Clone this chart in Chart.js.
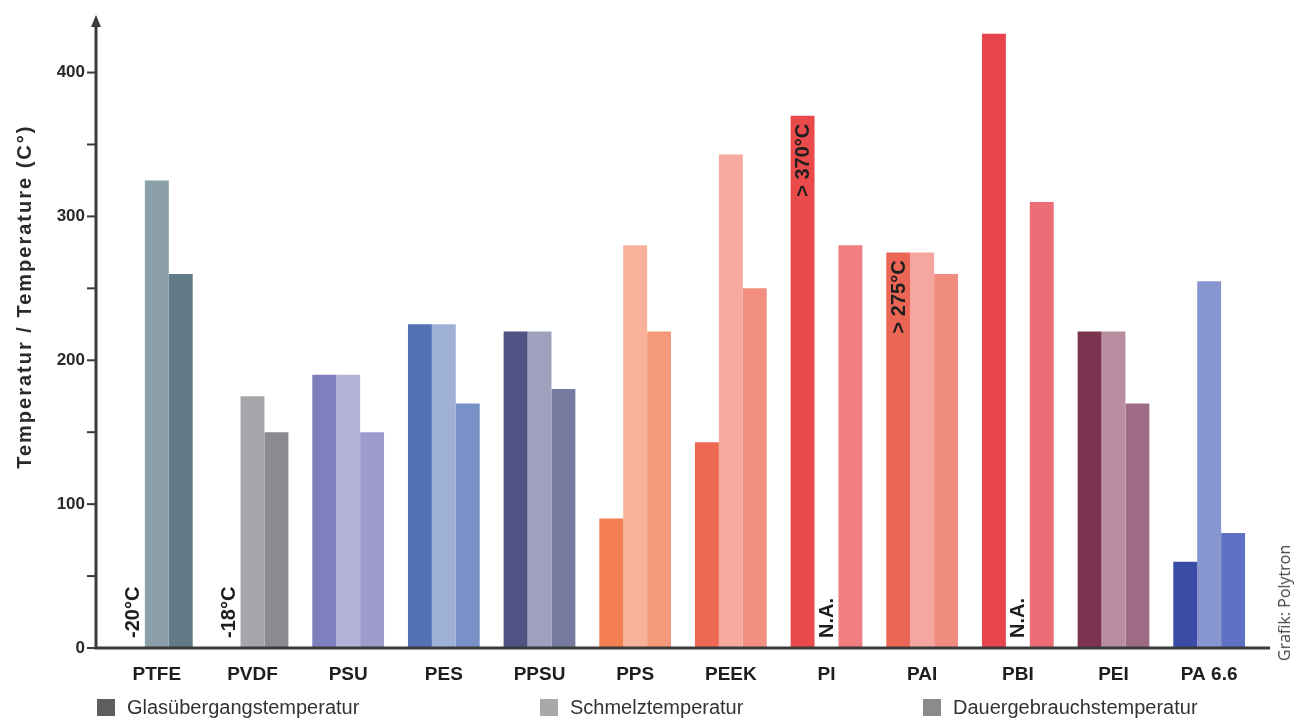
<!DOCTYPE html>
<html>
<head>
<meta charset="utf-8">
<script src="https://cdn.jsdelivr.net/npm/chart.js@4/dist/chart.umd.min.js"></script>
<style>
  body { margin: 0; background: #fff; }
  #wrap { position: relative; width: 1300px; height: 720px; }
  #legend { position: absolute; left: 97px; top: 696px; display: flex; font-family: 'Liberation Sans', Arial, sans-serif; font-size: 20px; color: #333; }
  #legend .item { display: flex; align-items: center; }
  #legend .box { width: 18px; height: 17px; margin-right: 12px; }
  #credit { position: absolute; left: 1284px; top: 603px; transform: translate(-50%, -50%) rotate(-90deg); white-space: nowrap; font-family: 'Open Sans', sans-serif; font-size: 16px; color: #444; }
</style>
</head>
<body>
<div id="wrap">
  <canvas id="chart" width="1300" height="720"></canvas>
  <div id="legend"></div>
  <div id="credit">Grafik: Polytron</div>
</div>
<script>
const categories = ['PTFE', 'PVDF', 'PSU', 'PES', 'PPSU', 'PPS', 'PEEK', 'PI', 'PAI', 'PBI', 'PEI', 'PA 6.6'];
const seriesNames = ['Glasübergangstemperatur', 'Schmelztemperatur', 'Dauergebrauchstemperatur'];

// values in °C, null = not available
const glassTemp = [-20, -18, 190, 225, 220, 90, 143, 370, 275, 427, 220, 60];
const meltTemp = [325, 175, 190, 225, 220, 280, 343, null, 275, null, 220, 255];
const serviceTemp = [260, 150, 150, 170, 180, 220, 250, 280, 260, 310, 170, 80];

// text written into the bars
const glassNotes = ['-20°C', '-18°C', '', '', '', '', '', '> 370°C', '> 275°C', '', '', ''];
const meltNotes = ['', '', '', '', '', '', '', 'N.A.', '', 'N.A.', '', ''];
const serviceNotes = ['', '', '', '', '', '', '', '', '', '', '', ''];

const glassColors = ['#8a9fa9', '#a4a6a9', '#7e7fbd', '#5371b5', '#4f5282', '#f47f50', '#ee6853', '#eb4a4b', '#ec6655', '#e9434b', '#7c3350', '#3a4ca6'];
const meltColors = ['#8a9fa9', '#a4a6a9', '#b2b2d8', '#9eb0d6', '#9fa0bd', '#f8b29a', '#f6aaa0', '#f6aaa0', '#f5a6a0', '#f5a6a0', '#b98ea0', '#8896cf'];
const serviceColors = ['#617a86', '#8a8b8f', '#9c9bcb', '#7891c6', '#777a9f', '#f49a7b', '#f28e7f', '#f07d7f', '#f08c80', '#ee6c76', '#9d6c84', '#5e71c2'];
const legendColors = ['#5e5e5e', '#a9a9a9', '#8b8b8b'];

const yTitle = 'Temperatur / Temperature (C°)';

const FONT = "'Liberation Sans', Arial, sans-serif";
const AXIS_GAP = 13;
const notesBySeries = [glassNotes, meltNotes, serviceNotes];

const axisPlugin = {
  id: 'arrowAxes',
  afterDatasetsDraw(chart) {
    const { ctx, chartArea, scales } = chart;
    const ax = chartArea.left - AXIS_GAP;
    ctx.save();
    ctx.strokeStyle = '#3a3a3a';
    ctx.fillStyle = '#3a3a3a';
    ctx.lineWidth = 3;
    ctx.beginPath();
    ctx.moveTo(ax, chartArea.bottom);
    ctx.lineTo(ax, chartArea.top + 8);
    ctx.moveTo(ax - 1.5, chartArea.bottom);
    ctx.lineTo(chartArea.right + AXIS_GAP, chartArea.bottom);
    ctx.stroke();
    ctx.beginPath();
    ctx.moveTo(ax, chartArea.top);
    ctx.lineTo(ax - 5, chartArea.top + 12);
    ctx.lineTo(ax + 5, chartArea.top + 12);
    ctx.closePath();
    ctx.fill();
    ctx.lineWidth = 2;
    scales.y.ticks.forEach((t) => {
      if (t.value % 50 !== 0) return;
      const y = scales.y.getPixelForValue(t.value);
      ctx.beginPath();
      ctx.moveTo(ax - 9, y);
      ctx.lineTo(ax, y);
      ctx.stroke();
    });

    // axis title, set a little above the middle of the axis
    ctx.save();
    ctx.translate(25, chartArea.top + (chartArea.bottom - chartArea.top) * 0.445);
    ctx.rotate(-Math.PI / 2);
    ctx.font = `bold 20px ${FONT}`;
    ctx.letterSpacing = '2px';
    ctx.fillStyle = '#2a2a2a';
    ctx.textAlign = 'center';
    ctx.textBaseline = 'middle';
    ctx.fillText(yTitle, 0, 0);
    ctx.restore();
    ctx.restore();
  },
};

const notesPlugin = {
  id: 'barNotes',
  afterDatasetsDraw(chart) {
    const { ctx, chartArea } = chart;
    ctx.save();
    ctx.font = `bold 20px ${FONT}`;
    ctx.fillStyle = '#1e1e1e';
    ctx.textBaseline = 'middle';
    chart.data.datasets.forEach((ds, di) => {
      const meta = chart.getDatasetMeta(di);
      notesBySeries[di].forEach((text, i) => {
        if (!text) return;
        const el = meta.data[i];
        const v = ds.data[i];
        ctx.save();
        if (v === null || v <= 0) {
          ctx.translate(el.x, chartArea.bottom - 10);
          ctx.rotate(-Math.PI / 2);
          ctx.textAlign = 'left';
        } else {
          ctx.translate(el.x, el.y + 8);
          ctx.rotate(-Math.PI / 2);
          ctx.textAlign = 'right';
        }
        ctx.fillText(text, 0, 1);
        ctx.restore();
      });
    });
    ctx.restore();
  },
};

const noEdgePadding = (s) => {
  s.paddingTop = 0;
  s.paddingBottom = 0;
  s.paddingLeft = 0;
  s.paddingRight = 0;
};

const seriesData = [glassTemp, meltTemp, serviceTemp];
const seriesColors = [glassColors, meltColors, serviceColors];

new Chart(document.getElementById('chart'), {
  type: 'bar',
  data: {
    labels: categories,
    datasets: seriesNames.map((name, i) => ({
      label: name,
      data: seriesData[i],
      backgroundColor: seriesColors[i],
      borderWidth: 0,
      categoryPercentage: 0.75,
      barPercentage: 1.0,
    })),
  },
  options: {
    responsive: false,
    animation: false,
    layout: { padding: { left: 0, right: 43, top: 15, bottom: 0 } },
    plugins: {
      legend: { display: false },
      tooltip: { enabled: false },
    },
    scales: {
      x: {
        grid: { display: false },
        border: { display: false },
        ticks: { color: '#1e1e1e', padding: 7, font: { family: FONT, size: 19, weight: 'bold' } },
        afterFit: (s) => { s.height = 72; noEdgePadding(s); },
      },
      y: {
        min: 0,
        max: 440,
        grid: { drawOnChartArea: false, drawTicks: false },
        border: { display: false },
        ticks: {
          stepSize: 50,
          autoSkip: false,
          padding: 24,
          color: '#2a2a2a',
          font: { family: FONT, size: 17, weight: 'bold' },
          callback: (v) => (v % 100 === 0 ? v : ''),
        },
        afterFit: (s) => { s.width = 109; noEdgePadding(s); },
      },
    },
  },
  plugins: [axisPlugin, notesPlugin],
});

const legend = document.getElementById('legend');
const itemWidths = [443, 383, null];
seriesNames.forEach((name, i) => {
  const item = document.createElement('div');
  item.className = 'item';
  if (itemWidths[i]) item.style.width = itemWidths[i] + 'px';
  item.innerHTML = `<span class="box" style="background:${legendColors[i]}"></span><span>${name}</span>`;
  legend.appendChild(item);
});
</script>
</body>
</html>
